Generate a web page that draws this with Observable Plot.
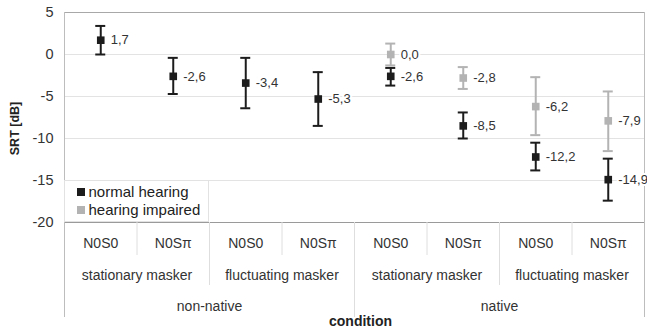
<!DOCTYPE html>
<html>
<head>
<meta charset="utf-8">
<script src="https://cdn.jsdelivr.net/npm/d3@7"></script>
<script src="https://cdn.jsdelivr.net/npm/@observablehq/plot@0.6"></script>
<style>
  html, body { margin: 0; padding: 0; background: #fff; }
  #wrap { position: relative; width: 647px; height: 331px; font-family: "Liberation Sans", Arial, sans-serif; }
  #legend { position: absolute; left: 64px; top: 180px; width: 145px; height: 42px; background: #fff;
            border: 1px solid #e2e2e2; box-sizing: border-box; font-size: 15px; color: #222; line-height: 18px; padding-top: 2px; }
  #legend .row { display: flex; align-items: center; padding-left: 12px; }
  #legend .sw { width: 7.5px; height: 7.5px; margin-right: 4px; }
</style>
</head>
<body>
<div id="wrap"></div>
<script>
// ---- data ----
const conditions = ["N0S0", "N0S\u03C0", "N0S0", "N0S\u03C0", "N0S0", "N0S\u03C0", "N0S0", "N0S\u03C0"];
const maskers = ["stationary masker", "fluctuating masker", "stationary masker", "fluctuating masker"];
const groups = ["non-native", "native"];
const seriesNames = ["normal hearing", "hearing impaired"];

const nhMean = [1.7, -2.6, -3.4, -5.3, -2.6, -8.5, -12.2, -14.9];
const nhLow  = [0.0, -4.7, -6.4, -8.5, -3.7, -10.0, -13.8, -17.4];
const nhHigh = [3.4, -0.4, -0.4, -2.1, -1.6, -6.9, -10.5, -12.4];

const hiMean = [null, null, null, null, 0.0, -2.8, -6.2, -7.9];
const hiLow  = [null, null, null, null, -1.3, -4.1, -9.6, -11.5];
const hiHigh = [null, null, null, null, 1.3, -1.5, -2.7, -4.4];

const yTicks = [5, 0, -5, -10, -15, -20];
const gridLines = [0, -5, -10, -15];

// ---- build table ----
const colors = {"normal hearing": "#1c1c1c", "hearing impaired": "#b3b3b3"};
const rows = [];
conditions.forEach((c, i) => {
  rows.push({series: "normal hearing", x: i + 0.5, mean: nhMean[i], lo: nhLow[i], hi: nhHigh[i]});
});
conditions.forEach((c, i) => {
  if (hiMean[i] !== null) rows.push({series: "hearing impaired", x: i + 0.5, mean: hiMean[i], lo: hiLow[i], hi: hiHigh[i]});
});
const drawOrder = [...rows.filter(d => d.series === "hearing impaired"), ...rows.filter(d => d.series === "normal hearing")];
const fmt = v => d3.format(".1f")(v).replace(".", ",").replace("\u2212", "-");

// layout helpers (pixel offsets below the plot frame converted via the y scale's ratio)
const mTop = 12, mBottom = 109, H = 331, W = 647;
const unitPx = (H - mBottom - mTop) / 25;
const below = px => -20 - px / unitPx;
const capHalf = 5 / ((W - 64 - 3) / 8);

const tier1 = conditions.map((c, i) => ({x: i + 0.5, label: c}));
const tier2 = maskers.map((m, i) => ({x: i * 2 + 1, label: m}));
const tier3 = groups.map((g, i) => ({x: i * 4 + 2, label: g}));
const sep1 = [1, 3, 5, 7];
const sep2 = [2, 6];
const sep3 = [4];

const plot = Plot.plot({
  width: W, height: H,
  marginLeft: 64, marginRight: 3, marginTop: mTop, marginBottom: mBottom,
  style: {fontFamily: "Liberation Sans, Arial, sans-serif", background: "white", color: "#333"},
  x: {domain: [0, 8], axis: null},
  y: {domain: [-20, 5], axis: null},
  marks: [
    Plot.ruleY(gridLines, {stroke: "#e3e3e3", strokeWidth: 1}),
    // frame
    Plot.ruleY([5], {x1: 0, x2: 8, stroke: "#a8a8a8", strokeWidth: 1.2}),
    Plot.ruleY([-20], {x1: 0, x2: 8, stroke: "#9a9a9a", strokeWidth: 1.2}),
    Plot.ruleX([0, 8], {y1: 5, y2: below(95), stroke: "#bdbdbd", strokeWidth: 1}),
    // category separators
    Plot.ruleX(sep1, {y1: -20, y2: below(33), stroke: "#dedede"}),
    Plot.ruleX(sep2, {y1: -20, y2: below(63), stroke: "#dedede"}),
    Plot.ruleX(sep3, {y1: -20, y2: below(95), stroke: "#dedede"}),
    // y axis
    Plot.text(yTicks, {x: 0, y: d => d, text: d => String(d), textAnchor: "end", dx: -11, fontSize: 14.5, fill: "#333"}),
    Plot.text(["SRT [dB]"], {x: 0, y: below(-94) , text: d => d, rotate: -90, dx: -50, fontSize: 12.5, fontWeight: "bold", fill: "#222"}),
    // x hierarchy labels
    Plot.text(tier1, {x: "x", y: below(21), text: "label", fontSize: 14, fill: "#333"}),
    Plot.text(tier2, {x: "x", y: below(53), text: "label", fontSize: 14, fill: "#333"}),
    Plot.text(tier3, {x: "x", y: below(84), text: "label", fontSize: 14, fill: "#333"}),
    Plot.text(["condition"], {x: 4, y: below(99), text: d => d, dx: 6, fontSize: 14, fontWeight: "bold", fill: "#222"}),
    // error bars
    Plot.ruleX(drawOrder, {x: "x", y1: "lo", y2: "hi", stroke: d => colors[d.series], strokeWidth: 2}),
    Plot.ruleY(drawOrder, {y: "lo", x1: d => d.x - capHalf, x2: d => d.x + capHalf, stroke: d => colors[d.series], strokeWidth: 2}),
    Plot.ruleY(drawOrder, {y: "hi", x1: d => d.x - capHalf, x2: d => d.x + capHalf, stroke: d => colors[d.series], strokeWidth: 2}),
    Plot.dot(drawOrder, {x: "x", y: "mean", symbol: "square", r: 4.3, fill: d => colors[d.series], stroke: "none"}),
    // value labels
    Plot.text(drawOrder, {x: "x", y: "mean", text: d => fmt(d.mean), textAnchor: "start", dx: 10, fontSize: 13,
      fill: "#333", stroke: "white", strokeWidth: 4})
  ]
});

const wrap = document.getElementById("wrap");
wrap.appendChild(plot);
const legend = document.createElement("div");
legend.id = "legend";
legend.innerHTML = seriesNames.map(s =>
  `<div class="row"><span class="sw" style="background:${colors[s]}"></span><span>${s}</span></div>`).join("");
wrap.appendChild(legend);
</script>
</body>
</html>
